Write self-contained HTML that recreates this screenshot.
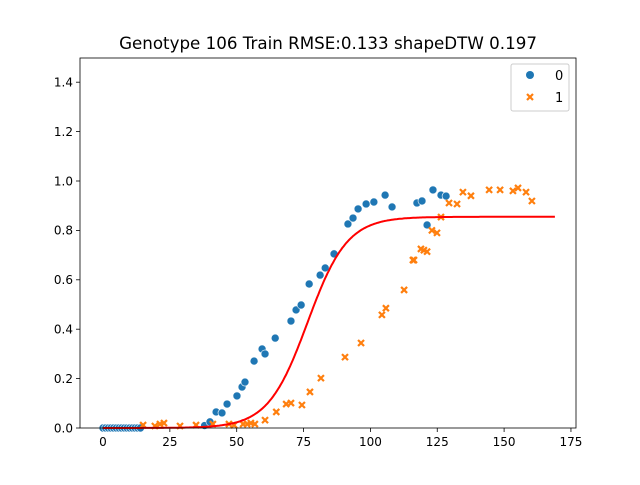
<!DOCTYPE html>
<html><head><meta charset="utf-8"><style>
body{margin:0;background:#fff;font-family:"Liberation Sans","DejaVu Sans",sans-serif}
text{font-family:"DejaVu Sans","Liberation Sans",sans-serif}
</style></head><body>
<svg id="c" width="640" height="480" xmlns="http://www.w3.org/2000/svg"></svg>
<script>
const xTicks=[0,25,50,75,100,125,150,175];
const yTicks=[0,0.2,0.4,0.6,0.8,1.0,1.2,1.4];
const blueX=[0,1,2,3,4,5,6,7,8,9,10,11,12,13,14,38,40,42.3,44.5,46.4,50.1,52,53.1,56.5,59.5,60.6,64.4,70.3,72.2,74.1,77.1,81.2,83.1,86.4,91.6,93.5,95.4,98.4,101.3,105.5,108.1,117.4,119.3,121.2,123.4,126.4,128.3];
const blueY=[0,0,0,0,0,0,0,0,0,0,0,0,0,0,0,0.01,0.025,0.065,0.061,0.097,0.13,0.166,0.186,0.271,0.32,0.30,0.364,0.433,0.478,0.498,0.583,0.619,0.648,0.705,0.826,0.85,0.887,0.907,0.915,0.943,0.895,0.911,0.919,0.822,0.964,0.943,0.939];
const orangeX=[15,19.4,21.3,22.8,28.8,34.8,41.1,47.1,49,52.4,53.9,55.3,56.8,60.6,64.8,68.5,70.3,74.4,77.4,81.5,90.5,96.5,104.3,105.8,112.6,115.9,116.3,118.9,120,121.2,123,124.9,126.4,129.4,132.4,134.6,137.6,144.4,148.5,153.3,155.2,158.2,160.4];
const orangeY=[0.012,0.008,0.016,0.02,0.008,0.012,0.016,0.016,0.012,0.016,0.016,0.02,0.016,0.032,0.065,0.097,0.101,0.093,0.146,0.202,0.287,0.344,0.458,0.485,0.559,0.68,0.68,0.725,0.72,0.714,0.80,0.79,0.854,0.911,0.907,0.955,0.94,0.964,0.964,0.96,0.972,0.955,0.919];
const curveL=0.855, curveK=0.135, curveX0=76.5;
const NS="http://www.w3.org/2000/svg";
const svg=document.getElementById('c');
const X0=80,X1=576,Y0=58,Y1=428;
const sx=v=>103+v*2.674, sy=v=>428-v*247;
function el(t,a,p){const e=document.createElementNS(NS,t);for(const k in a)e.setAttribute(k,a[k]);(p||svg).appendChild(e);return e;}
let t=el('text',{x:328,y:49,'text-anchor':'middle','font-size':16.7});t.textContent='Genotype 106 Train RMSE:0.133 shapeDTW 0.197';


xTicks.forEach(v=>{const x=sx(v);
 const l=el('line',{x1:x,x2:x,y1:Y1,y2:Y1+4,stroke:'#000','stroke-width':0.8});
 
 
 const tx=el('text',{x:x,y:Y1+18,'text-anchor':'middle','font-size':12});tx.textContent=v;
 
 });
yTicks.forEach(v=>{const y=sy(v);
 const l=el('line',{x1:X0-4,x2:X0,y1:y,y2:y,stroke:'#000','stroke-width':0.8});
 
 
 const tx=el('text',{x:X0-7,y:y+4.3,'text-anchor':'end','font-size':12});tx.textContent=v.toFixed(1);
 
 });
function cross(x,y,p){const g=el('path',{d:`M${x-3},${y-3}L${x+3},${y+3}M${x-3},${y+3}L${x+3},${y-3}`,stroke:'#ff7f0e','stroke-width':2.2},p);return g;}
blueX.forEach((v,i)=>{const c=el('circle',{cx:sx(v),cy:sy(blueY[i]),r:4,fill:'#1f77b4',stroke:'#fff','stroke-width':0.6});
 
 });
orangeX.forEach((v,i)=>{const c=cross(sx(v),sy(orangeY[i]));
 
 });
let d='';for(let x=0;x<=169;x+=0.5){const y=curveL/(1+Math.exp(-curveK*(x-curveX0)));d+=(x?'L':'M')+sx(x).toFixed(1)+','+sy(y).toFixed(1);}
const cv=el('path',{d:d,fill:'none',stroke:'#ff0000','stroke-width':2});


const fr=el('rect',{x:X0,y:Y0,width:X1-X0,height:Y1-Y0,fill:'none',stroke:'#000','stroke-width':0.8});


const lg=el('g',{});


el('rect',{x:511,y:64,width:58,height:47,rx:2,fill:'#fff',stroke:'#ccc'},lg);
el('circle',{cx:530,cy:75,r:4,fill:'#1f77b4'},lg);
let l0=el('text',{x:555,y:80,'font-size':13},lg);l0.textContent='0';
cross(530,97,lg);
let l1=el('text',{x:555,y:102,'font-size':13},lg);l1.textContent='1';
</script>
</body></html>
